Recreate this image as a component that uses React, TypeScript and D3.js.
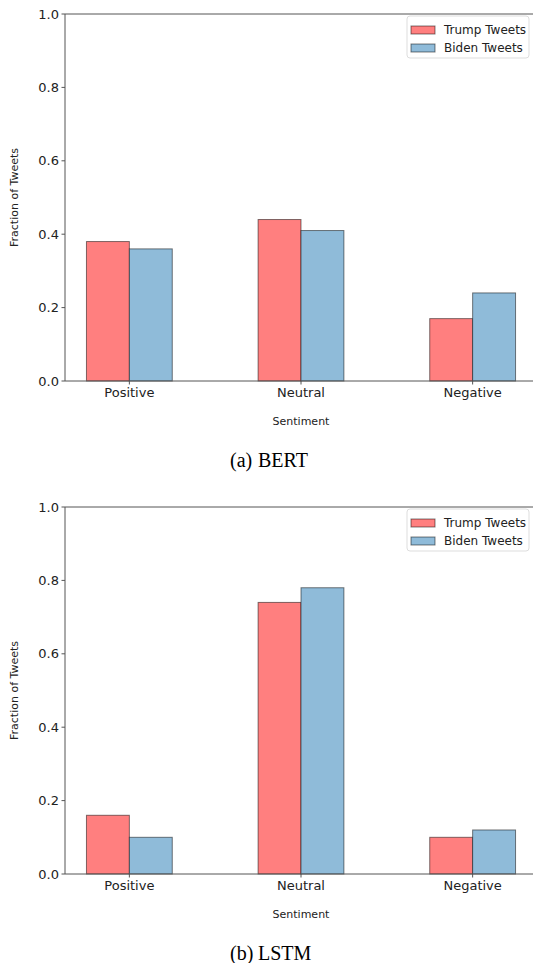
import React from 'react'
import { scaleLinear, scaleBand } from 'd3'

const categories = ['Positive', 'Neutral', 'Negative']
const seriesNames = ['Trump Tweets', 'Biden Tweets']
const seriesColors = ['#ff7f7f', '#8fbbd9']
const bertTrump = [0.38, 0.44, 0.17]
const bertBiden = [0.36, 0.41, 0.24]
const lstmTrump = [0.16, 0.74, 0.10]
const lstmBiden = [0.10, 0.78, 0.12]
const yTicks = [0, 0.2, 0.4, 0.6, 0.8, 1.0]

const W = 533
const H = 963
const plotLeft = 65
const plotH = 367
const font = 'DejaVu Sans, sans-serif'

// one panel: top = y of the 1.0 line
const Panel = ({ top, trump, biden, tag, caption }) => {
    // categorical x: units -0.375 .. 2.375
    const xUnit = scaleLinear().domain([-0.375, 2.375]).range([plotLeft, 537])
    const yScale = scaleLinear().domain([0, 1]).range([top + plotH, top])
    const inner = scaleBand().domain(seriesNames).range([-0.25, 0.25])
    const series = [trump, biden]

    return (
        <g>
            {series.map((vals, si) =>
                vals.map((v, ci) => {
                    const x0 = xUnit(ci + inner(seriesNames[si]))
                    const x1 = xUnit(ci + inner(seriesNames[si]) + inner.bandwidth())
                    return (
                        <rect key={`${si}-${ci}`} x={x0} y={yScale(v)} width={x1 - x0}
                            height={yScale(0) - yScale(v)} fill={seriesColors[si]}
                            stroke="#000" strokeOpacity={0.5} strokeWidth={1} />
                    )
                })
            )}
            {/* spines */}
            <line x1={plotLeft} x2={plotLeft} y1={top} y2={top + plotH} stroke="#555" strokeWidth={1} />
            <line x1={plotLeft} x2={W} y1={top + plotH} y2={top + plotH} stroke="#555" strokeWidth={1} />
            <line x1={plotLeft} x2={W} y1={top} y2={top} stroke="#555" strokeWidth={1} />

            {yTicks.map(t => (
                <g key={t}>
                    <line x1={plotLeft - 3.5} x2={plotLeft} y1={yScale(t)} y2={yScale(t)} stroke="#555" />
                    <text x={plotLeft - 6} y={yScale(t)} dy="0.35em" textAnchor="end"
                        fontSize={13} fill="#222" fontFamily={font}>{t.toFixed(1)}</text>
                </g>
            ))}
            {categories.map((c, i) => (
                <g key={c}>
                    <line x1={xUnit(i)} x2={xUnit(i)} y1={top + plotH} y2={top + plotH + 3.5} stroke="#555" />
                    <text x={xUnit(i)} y={top + plotH + 16} textAnchor="middle"
                        fontSize={13} fill="#222" fontFamily={font}>{c}</text>
                </g>
            ))}
            <text x={xUnit(1)} y={top + plotH + 44} textAnchor="middle" fontSize={11}
                fill="#222" fontFamily={font}>Sentiment</text>
            <text transform={`translate(18,${top + plotH / 2}) rotate(-90)`} textAnchor="middle"
                fontSize={11} fill="#222" fontFamily={font}>Fraction of Tweets</text>

            {/* legend */}
            <rect x={407} y={top + 2} width={122} height={42} rx={3} fill="#fff"
                stroke="#ddd" strokeWidth={1} />
            {seriesNames.map((s, i) => (
                <g key={s}>
                    <rect x={411} y={top + 12 + i * 18} width={24} height={8} fill={seriesColors[i]}
                        stroke="#000" strokeOpacity={0.5} />
                    <text x={444} y={top + 16 + i * 18} dy="0.35em" fontSize={12}
                        fill="#222" fontFamily={font}>{s}</text>
                </g>
            ))}

            <text y={top + plotH + 86} fontSize={20} fill="#000" fontFamily="Liberation Serif, serif">
                <tspan x={230}>{tag}</tspan>
                <tspan x={258}>{caption}</tspan>
            </text>
        </g>
    )
}

const App = () => {
    return (
        <svg width={W} height={H} style={{ position: 'absolute', left: 0, top: 0, background: 'white' }}>
            <rect width={W} height={H} fill="#fff" />
            <Panel top={14} trump={bertTrump} biden={bertBiden} tag="(a)" caption="BERT" />
            <Panel top={507} trump={lstmTrump} biden={lstmBiden} tag="(b)" caption="LSTM" />
        </svg>
    )
}

export default App
